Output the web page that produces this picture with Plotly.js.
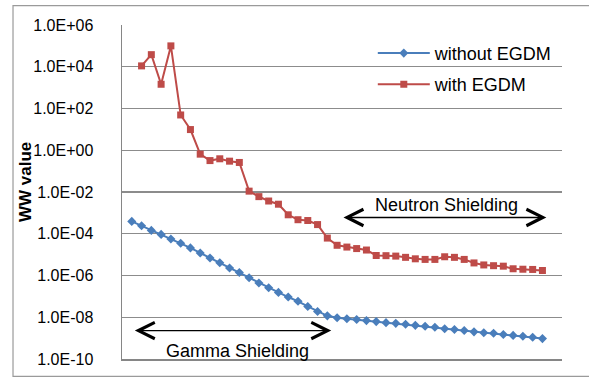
<!DOCTYPE html>
<html>
<head>
<meta charset="utf-8">
<script src="https://cdn.plot.ly/plotly-3.0.1.min.js"></script>
<style>html,body{margin:0;padding:0;background:#fff;}#chart{width:589px;height:378px;}</style>
</head>
<body>
<div id="chart"></div>
<script>
// Step index along the shielding path (category positions)
const stepsWithout = [1,2,3,4,5,6,7,8,9,10,11,12,13,14,15,16,17,18,19,20,21,22,23,24,25,26,27,28,29,30,31,32,33,34,35,36,37,38,39,40,41,42,43];
const stepsWith = [2,3,4,5,6,7,8,9,10,11,12,13,14,15,16,17,18,19,20,21,22,23,24,25,26,27,28,29,30,31,32,33,34,35,36,37,38,39,40,41,42,43];

const wwWithout = [3.9e-4,2.4e-4,1.45e-4,9.3e-5,5.6e-5,3.5e-5,2.1e-5,1.2e-5,6.9e-6,4.1e-6,
  2.3e-6,1.4e-6,7.8e-7,4.4e-7,2.6e-7,1.55e-7,9.3e-8,5.8e-8,3.3e-8,1.9e-8,
  1.17e-8,9.5e-9,8.5e-9,7.8e-9,6.9e-9,6.2e-9,5.5e-9,5.1e-9,4.6e-9,4.1e-9,
  3.7e-9,3.3e-9,2.8e-9,2.6e-9,2.3e-9,2.0e-9,1.8e-9,1.7e-9,1.5e-9,1.35e-9,
  1.23e-9,1.1e-9,9.5e-10];

const wwWith = [1.1e4,3.8e4,1.45e3,1.0e5,49,9.8,0.65,0.32,0.39,0.30,
  0.26,1.1e-2,6.0e-3,3.7e-3,2.6e-3,8.1e-4,4.7e-4,4.3e-4,2.75e-4,6.2e-5,
  2.8e-5,2.3e-5,1.95e-5,1.66e-5,9.1e-6,8.9e-6,8.5e-6,7.4e-6,6.3e-6,5.9e-6,
  5.9e-6,7.9e-6,7.4e-6,5.9e-6,4.0e-6,3.2e-6,2.95e-6,2.8e-6,2.1e-6,2.0e-6,
  1.95e-6,1.74e-6];

const yTickVals = [1e-10,1e-8,1e-6,1e-4,1e-2,1e0,1e2,1e4,1e6];
const yTickText = ['1.0E-10','1.0E-08','1.0E-06','1.0E-04','1.0E-02','1.0E+00','1.0E+02','1.0E+04','1.0E+06'];

const seriesNames = ['without EGDM','with EGDM'];
const yTitle = 'WW value';
const blue = '#4A7EBB', red = '#BE4B48';
const FONT = 'Liberation Sans, Arial, sans-serif';

const traces = [
  {x: stepsWithout, y: wwWithout, name: seriesNames[0], type:'scatter', mode:'lines+markers',
   line:{color:blue, width:2}, marker:{symbol:'diamond', size:7, color:blue}, legend:'legend'},
  {x: stepsWith, y: wwWith, name: seriesNames[1], type:'scatter', mode:'lines+markers',
   line:{color:red, width:2}, marker:{symbol:'square', size:7, color:red}, legend:'legend2'}
];

const layout = {
  width:589, height:378,
  margin:{l:122, r:27, t:25, b:19},
  paper_bgcolor:'#fff', plot_bgcolor:'#fff',
  font:{family:FONT, color:'#000', size:16},
  showlegend:true,
  legend:{x:0.57, y:0.915, xanchor:'left', yanchor:'middle', bgcolor:'rgba(0,0,0,0)',
          font:{size:18, family:FONT}, itemwidth:52},
  legend2:{x:0.57, y:0.822, xanchor:'left', yanchor:'middle', bgcolor:'rgba(0,0,0,0)',
          font:{size:18, family:FONT}, itemwidth:52},
  xaxis:{range:[0,45], showticklabels:false, showgrid:false, zeroline:false, ticks:'',
         showline:true, linecolor:'#868686', linewidth:1.5, fixedrange:true},
  yaxis:{type:'log', range:[-10,6], tickvals:yTickVals, ticktext:yTickText,
         showgrid:true, gridcolor:'#8c8c8c', gridwidth:1.3, ticks:'',
         showline:true, linecolor:'#868686', linewidth:1.5, zeroline:false,
         ticklabelstandoff:24, tickfont:{size:16, family:FONT}},
  shapes:[
    {type:'rect', xref:'paper', yref:'paper', x0:-0.2477, x1:1.07, y0:-0.052, y1:1.058,
     line:{color:'#9a9a9a', width:1.2}, fillcolor:'rgba(0,0,0,0)', layer:'below'}
  ],
  annotations:[
    {x:-0.218, y:0.53, xref:'paper', yref:'paper', xanchor:'center', yanchor:'middle',
     text:'<b>'+yTitle+'</b>', textangle:-90,
     showarrow:false, font:{size:17, family:FONT, color:'#000'}},
    {x:43.4, y:-3.22, ax:22.5, ay:-3.22, xref:'x', yref:'y', axref:'x', ayref:'y',
     text:'', showarrow:true, arrowhead:5, startarrowhead:5, arrowside:'end+start',
     arrowsize:2.3, arrowwidth:1.4, arrowcolor:'#000', standoff:0, startstandoff:0},
    {x:33.2, y:-2.61, xref:'x', yref:'y', text:'Neutron Shielding', showarrow:false,
     font:{size:18, family:FONT, color:'#000'}},
    {x:21.4, y:-8.64, ax:1.16, ay:-8.64, xref:'x', yref:'y', axref:'x', ayref:'y',
     text:'', showarrow:true, arrowhead:5, startarrowhead:5, arrowside:'end+start',
     arrowsize:2.3, arrowwidth:1.4, arrowcolor:'#000', standoff:0, startstandoff:0},
    {x:11.86, y:-9.63, xref:'x', yref:'y', text:'Gamma Shielding', showarrow:false,
     font:{size:18, family:FONT, color:'#000'}}
  ]
};

Plotly.newPlot('chart', traces, layout, {staticPlot:true, displayModeBar:false});
</script>
</body>
</html>
